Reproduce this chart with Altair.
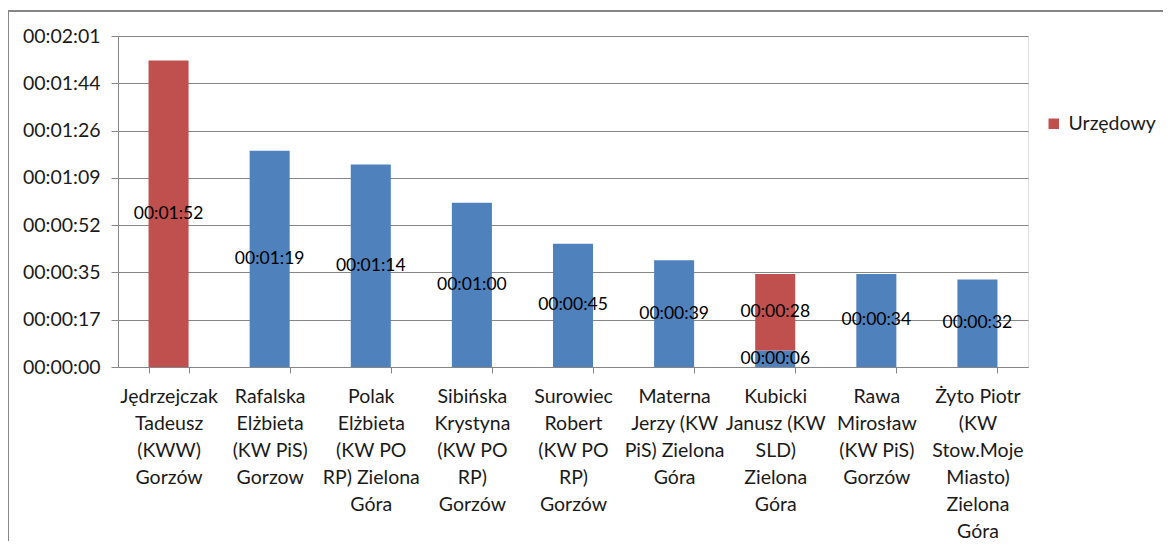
import altair as alt
import pandas as pd

categories = [
    "Jędrzejczak|Tadeusz|(KWW)|Gorzów",
    "Rafalska|Elżbieta|(KW PiS)|Gorzow",
    "Polak|Elżbieta|(KW PO|RP) Zielona|Góra",
    "Sibińska|Krystyna|(KW PO|RP)|Gorzów",
    "Surowiec|Robert|(KW PO|RP)|Gorzów",
    "Materna|Jerzy (KW|PiS) Zielona|Góra",
    "Kubicki|Janusz (KW|SLD)|Zielona|Góra",
    "Rawa|Mirosław|(KW PiS)|Gorzów",
    "Żyto Piotr|(KW|Stow.Moje|Miasto)|Zielona|Góra",
]
# seconds
nieurzedowy = [0, 79, 74, 60, 45, 39, 6, 34, 32]
urzedowy = [112, 0, 0, 0, 0, 0, 28, 0, 0]
series_names = ["Nieurzędowy", "Urzędowy"]
series_colors = ["#4F81BD", "#C0504D"]
y_ticks = [0, 17.28, 34.56, 51.84, 69.12, 86.4, 103.68, 120.96]

rows = []
for i, c in enumerate(categories):
    for k, vals in enumerate([nieurzedowy, urzedowy]):
        if vals[i] > 0:
            rows.append({"cat": c, "series": series_names[k], "sec": vals[i], "ord": k})
df = pd.DataFrame(rows)

FONT = "Lato"
W, H = 910, 331

base = alt.Chart(df).transform_stack(
    stack="sec", groupby=["cat"], as_=["y0", "y1"], sort=[alt.SortField("ord")]
).transform_calculate(
    mid="(datum.y0 + datum.y1) / 2",
    lab="utcFormat(datum.sec * 1000, '%H:%M:%S')",
)

x_enc = alt.X(
    "cat:N",
    sort=categories,
    scale=alt.Scale(paddingInner=0.604, paddingOuter=0.302),
    axis=alt.Axis(
        title=None, labelAngle=0, labelExpr="split(datum.label, '|')",
        labelFont=FONT, labelFontSize=19.5, labelColor="#1a1a1a",
        labelLineHeight=27, labelPadding=14, labelBaseline="top",
        tickBand="extent", tickSize=6, tickColor="#868686",
        domainColor="#868686", grid=False, labelLimit=200,
    ),
)
y_scale = alt.Scale(domain=[0, 120.96], nice=False, zero=True)

bars = base.mark_bar().encode(
    x=x_enc,
    y=alt.Y(
        "y0:Q", scale=y_scale,
        axis=alt.Axis(
            title=None, values=y_ticks,
            labelExpr="utcFormat(round(datum.value) * 1000, '%H:%M:%S')",
            labelFont=FONT, labelFontSize=19.5, labelColor="#1a1a1a", labelPadding=11,
            tickSize=7, tickColor="#868686", domainColor="#868686",
            grid=True, gridColor="#868686", gridWidth=1,
        ),
    ),
    y2="y1:Q",
    color=alt.Color(
        "series:N",
        scale=alt.Scale(domain=series_names, range=series_colors),
        legend=alt.Legend(
            title=None, values=["Urzędowy"], orient="none",
            legendX=926, legendY=78, symbolType="square", symbolSize=110,
            symbolStrokeWidth=0, labelFont=FONT, labelFontSize=19.5,
            labelColor="#1a1a1a", labelOffset=5,
        ),
    ),
    order=alt.Order("ord:Q"),
)

labels = base.mark_text(font=FONT, fontSize=17.5, color="#000000").encode(
    x=alt.X("cat:N", sort=categories),
    y=alt.Y("mid:Q", scale=y_scale),
    text="lab:N",
)

frame_left = alt.Chart(pd.DataFrame({"a": [0]})).mark_rule(
    color="#868686", strokeWidth=2, clip=False
).encode(x=alt.value(-110), y=alt.value(-25), y2=alt.value(510))
frame_top = alt.Chart(pd.DataFrame({"a": [0]})).mark_rule(
    color="#868686", strokeWidth=2, clip=False
).encode(x=alt.value(-110), x2=alt.value(1045), y=alt.value(-25))

chart = alt.layer(frame_left, frame_top, bars, labels).properties(
    width=W, height=H,
    autosize=alt.AutoSizeParams(type="none"),
    padding={"left": 110, "top": 28, "right": 137, "bottom": 174},
).configure_view(stroke=None).configure(background="white")

chart.save("out.html", embed_options={"renderer": "svg", "actions": False})
